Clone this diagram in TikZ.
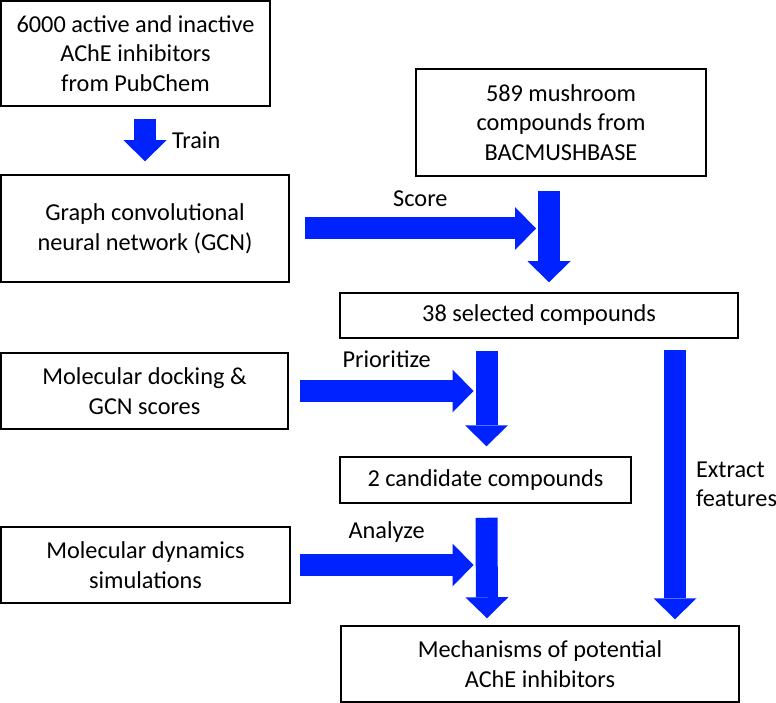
\documentclass[tikz,border=0pt]{standalone}
\usepackage{fontspec}
\setmainfont{Carlito}
\usepackage{tikz}
\usetikzlibrary{arrows.meta,
                calc,
                positioning}
\definecolor{flowblue}{RGB}{0,34,255}

\begin{document}
\begin{tikzpicture}[
		x=1pt, y=-1pt,
		box/.style={draw, line width=1.5pt, align=center, inner sep=0pt,
			font=\fontsize{24.3}{29.5}\selectfont},
		flow/.style={draw=flowblue, line width=22pt,
			-{Triangle[length=21pt, width=43pt, line width=0pt]}},
		lbl/.style={font=\fontsize{24.3}{29.5}\selectfont, inner sep=0pt}
	]
		\useasboundingbox (0,0) rectangle (776,703);
		\node [box, minimum width=269pt, minimum height=105pt] (pubchem) at (135.5,53.5)
			{6000 active and inactive\\AChE inhibitors\\from PubChem};
		\node [box, minimum width=288pt, minimum height=107pt] (gcn) at (145,228.5)
			{Graph convolutional\\neural network (GCN)};
		\node [box, minimum width=290pt, minimum height=107pt] (mushroom) at (561,122.5)
			{589 mushroom\\compounds from\\BACMUSHBASE};
		\node [box, minimum width=398pt, minimum height=45pt] (selected) at (539,315.5)
			{38 selected compounds};
		\node [box, minimum width=287pt, minimum height=76pt] (docking) at (144.5,391)
			{Molecular docking \&\\GCN scores};
		\node [box, minimum width=291pt, minimum height=46pt] (candidate) at (485.5,480)
			{2 candidate compounds};
		\node [box, minimum width=289pt, minimum height=76pt] (dynamics) at (145.5,565)
			{Molecular dynamics\\simulations};
		\node [box, minimum width=398pt, minimum height=76pt] (mechanisms) at (540,664)
			{Mechanisms of potential\\AChE inhibitors};

		% block arrows
		\draw [flow] ($(gcn.north |- pubchem.south)+(0,12)$) -- ($(gcn.north)+(0,-13)$)
			node [lbl, midway, right=16pt] {Train};
		\draw [flow] ($(mushroom.south)+(-12,14)$) -- ($(mushroom.south |- selected.north)+(-12,-10)$);
		\draw [flow] ($(gcn.east)+(15,0)$) -- ($(gcn.east -| mushroom.south)+(-25,0)$)
			node [lbl, midway, above=11pt] {Score};
		\draw [flow] ($(candidate.north |- selected.south)+(1,12)$) -- ($(candidate.north)+(1,-10)$);
		\draw [flow] ($(docking.east)+(11,0)$) -- ($(docking.east -| candidate.north)+(-12,0)$)
			node [lbl, midway, above=12pt] {Prioritize};
		\draw [flow] ($(candidate.south)+(1,14)$) -- ($(mechanisms.north)+(-53,-7)$);
		\draw [flow] ($(dynamics.east)+(9,0)$) -- ($(dynamics.east -| candidate.north)+(-12,0)$)
			node [lbl, midway, above=12pt] {Analyze};
		\draw [flow] ($(selected.south)+(136,11)$) -- ($(mechanisms.north)+(135,-6)$)
			node [lbl, midway, right=10pt, align=left] {Extract\\features};
	\end{tikzpicture}
\end{document}
